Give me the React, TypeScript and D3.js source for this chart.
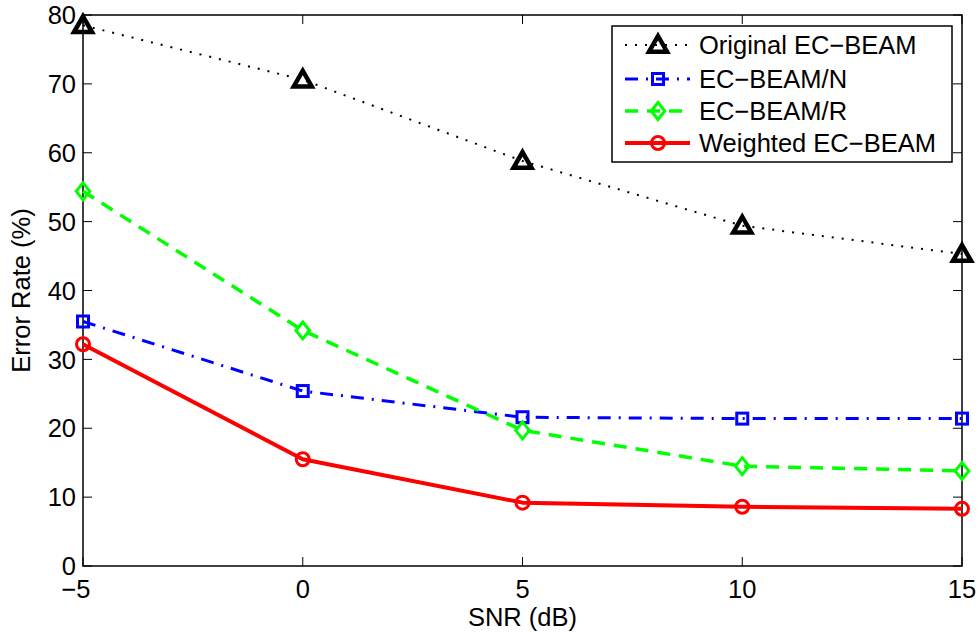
import React from "react";
import * as d3 from "d3";

const snr = [-5, 0, 5, 10, 15];
const original = [78.5, 70.6, 58.8, 49.4, 45.3];
const ecbeamN = [35.5, 25.4, 21.6, 21.4, 21.4];
const ecbeamR = [54.4, 34.2, 19.7, 14.5, 13.8];
const weighted = [32.2, 15.5, 9.2, 8.6, 8.3];
const xTicks = [-5, 0, 5, 10, 15];
const yTicks = [0, 10, 20, 30, 40, 50, 60, 70, 80];
const seriesNames = ["Original EC\u2212BEAM", "EC\u2212BEAM/N", "EC\u2212BEAM/R", "Weighted EC\u2212BEAM"];

const W = 979, H = 632;
const L = 83, R = 962, T = 15, B = 566;
const FONT = "'Liberation Sans', Arial, Helvetica, sans-serif";
const FS = 25.5;

type Style = { color: string; width: number; dash: string; marker: string };
const styles: Style[] = [
  { color: "#000", width: 2, dash: "2,8", marker: "triangle" },
  { color: "#0000ff", width: 3, dash: "13,8,2,8", marker: "square" },
  { color: "#00ff00", width: 3.5, dash: "13,9", marker: "diamond" },
  { color: "#ff0000", width: 4, dash: "", marker: "circle" },
];

function Marker({ type, x, y, color }: { type: string; x: number; y: number; color: string }) {
  if (type === "triangle") {
    const s = 9;
    return (
      <path
        d={`M${x},${y - s}L${x + s},${y + s * 0.75}L${x - s},${y + s * 0.75}Z`}
        fill="none"
        stroke={color}
        strokeWidth={4.5}
        strokeLinejoin="miter"
      />
    );
  }
  if (type === "square") {
    const s = 5.5;
    return <rect x={x - s} y={y - s} width={2 * s} height={2 * s} fill="none" stroke={color} strokeWidth={3} />;
  }
  if (type === "diamond") {
    const s = 8.5;
    return (
      <path
        d={`M${x},${y - s}L${x + s * 0.8},${y}L${x},${y + s}L${x - s * 0.8},${y}Z`}
        fill="none"
        stroke={color}
        strokeWidth={3}
      />
    );
  }
  return <circle cx={x} cy={y} r={6.5} fill="none" stroke={color} strokeWidth={3} />;
}

export default function App() {
  const x = d3.scaleLinear().domain([-5, 15]).range([L, R]);
  const y = d3.scaleLinear().domain([0, 80]).range([B, T]);
  const data = [original, ecbeamN, ecbeamR, weighted];
  const line = d3
    .line<number>()
    .x((_, i) => x(snr[i]))
    .y((d) => y(d));

  const legX = 612, legY = 26, legW = 340, legH = 136;
  const rowY = [45, 79, 111, 143];

  return (
    <svg
      width={W}
      height={H}
      style={{ position: "absolute", left: 0, top: 0, background: "#fff" }}
      fontFamily={FONT}
    >
      <rect x={0} y={0} width={W} height={H} fill="#fff" />
      {/* ticks */}
      {xTicks.map((t) => (
        <g key={"xt" + t}>
          <line x1={x(t)} x2={x(t)} y1={B} y2={B - 9} stroke="#000" strokeWidth={1} />
          <line x1={x(t)} x2={x(t)} y1={T} y2={T + 9} stroke="#000" strokeWidth={1} />
          <text
            x={x(t) + (t < 0 ? -7 : 0)}
            y={598}
            textAnchor="middle"
            fontSize={FS}
            fill="#000"
          >
            {t < 0 ? "\u2212" + Math.abs(t) : t}
          </text>
        </g>
      ))}
      {yTicks.map((t) => (
        <g key={"yt" + t}>
          <line x1={L} x2={L + 9} y1={y(t)} y2={y(t)} stroke="#000" strokeWidth={1} />
          <line x1={R} x2={R - 9} y1={y(t)} y2={y(t)} stroke="#000" strokeWidth={1} />
          <text x={76} y={y(t)} dy="0.36em" textAnchor="end" fontSize={FS} fill="#000">
            {t}
          </text>
        </g>
      ))}
      <rect x={L} y={T} width={R - L} height={B - T} fill="none" stroke="#000" strokeWidth={1.5} />

      {/* series */}
      {data.map((vals, si) => (
        <g key={"s" + si}>
          <path
            d={line(vals) || ""}
            fill="none"
            stroke={styles[si].color}
            strokeWidth={styles[si].width}
            strokeDasharray={styles[si].dash || undefined}
            strokeLinejoin="round"
          />
          {vals.map((v, i) => (
            <Marker key={i} type={styles[si].marker} x={x(snr[i])} y={y(v)} color={styles[si].color} />
          ))}
        </g>
      ))}

      {/* axis labels */}
      <text x={(L + R) / 2} y={626} textAnchor="middle" fontSize={FS} fill="#000">
        SNR (dB)
      </text>
      <text
        transform={`translate(30,${(T + B) / 2}) rotate(-90)`}
        textAnchor="middle"
        fontSize={FS}
        fill="#000"
      >
        Error Rate (%)
      </text>

      {/* legend */}
      <rect x={legX} y={legY} width={legW} height={legH} fill="#fff" stroke="#000" strokeWidth={1.5} />
      {styles.map((s, i) => (
        <g key={"lg" + i}>
          <line
            x1={625}
            x2={690}
            y1={rowY[i]}
            y2={rowY[i]}
            stroke={s.color}
            strokeWidth={s.width}
            strokeDasharray={s.dash || undefined}
          />
          <Marker type={s.marker} x={658} y={rowY[i]} color={s.color} />
          <text x={699} y={rowY[i]} dy="0.36em" fontSize={FS} fill="#000">
            {seriesNames[i]}
          </text>
        </g>
      ))}
    </svg>
  );
}
